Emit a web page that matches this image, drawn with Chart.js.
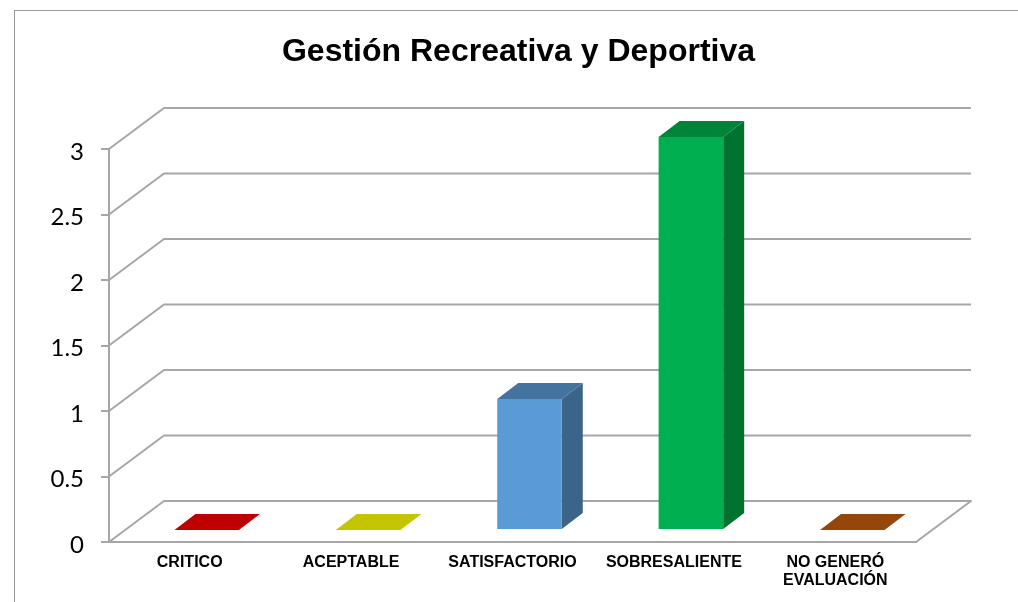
<!DOCTYPE html>
<html>
<head>
<meta charset="utf-8">
<script src="https://cdn.jsdelivr.net/npm/chart.js@4/dist/chart.umd.min.js"></script>
<style>
    html, body { margin: 0; padding: 0; background: #fff; overflow: hidden; }
    #frame { position: absolute; left: 14px; top: 10px; width: 1020px; height: 600px; border-left: 1px solid #999; border-top: 1px solid #999; overflow: hidden; }
    canvas { display: block; }
</style>
</head>
<body>
<div id="frame"><canvas id="chart" width="1007" height="591"></canvas></div>
<script>
const categories = ['CRITICO', 'ACEPTABLE', 'SATISFACTORIO', 'SOBRESALIENTE', ['NO GENERÓ', 'EVALUACIÓN']];
const values = [0, 0, 1, 3, 0];
const yMax = 3;
const yStep = 0.5;

const frontColors = ['#C00000', '#C4C400', '#5B9BD5', '#00B050', '#984807'];
const topColors = ['#C00000', '#C4C400', '#44739F', '#00843A', '#94460B'];
const sideColors = ['#900000', '#939300', '#3B6489', '#00722F', '#713605'];

const GRID = '#a6a6a6';
const WALL_DX = 55, WALL_DY = -41;   // depth of the floor
const BAR_DX = 21, BAR_DY = -16;     // depth of a bar
const SHIFT_X = 17, SHIFT_Y = -12;   // bars sit mid floor

function poly(ctx, color, pts) {
    ctx.fillStyle = color;
    ctx.beginPath();
    pts.forEach((p, i) => i ? ctx.lineTo(p[0], p[1]) : ctx.moveTo(p[0], p[1]));
    ctx.closePath();
    ctx.fill();
}

const walls3d = {
    id: 'walls3d',
    beforeDatasetsDraw(chart) {
        const ctx = chart.ctx, y = chart.scales.y, a = chart.chartArea;
        ctx.save();
        ctx.strokeStyle = GRID;
        ctx.lineWidth = 2;
        ctx.lineJoin = 'round';
        y.ticks.forEach(t => {
            const py = y.getPixelForValue(t.value);
            ctx.beginPath();
            ctx.moveTo(a.left, py);
            ctx.lineTo(a.left + WALL_DX, py + WALL_DY);
            ctx.lineTo(a.right + WALL_DX, py + WALL_DY);
            if (t.value === 0) ctx.lineTo(a.right, py);
            ctx.stroke();
        });
        ctx.restore();
    },
    beforeDatasetDraw(chart) {
        const ctx = chart.ctx;
        ctx.save();
        ctx.translate(SHIFT_X, SHIFT_Y);
        // side and top faces come from the bar elements
        chart.getDatasetMeta(0).data.forEach((bar, i) => {
            const l = bar.x - bar.width / 2, r = bar.x + bar.width / 2;
            if (bar.base > bar.y) {
                poly(ctx, sideColors[i], [[r, bar.y], [r + BAR_DX, bar.y + BAR_DY], [r + BAR_DX, bar.base + BAR_DY], [r, bar.base]]);
            }
            poly(ctx, topColors[i], [[l, bar.y], [l + BAR_DX, bar.y + BAR_DY], [r + BAR_DX, bar.y + BAR_DY], [r, bar.y]]);
        });
    },
    afterDatasetDraw(chart) {
        chart.ctx.restore();
    }
};

new Chart(document.getElementById('chart'), {
    type: 'bar',
    data: {
        labels: categories,
        datasets: [{
            data: values,
            backgroundColor: frontColors,
            borderWidth: 0,
            barPercentage: 0.4,
            categoryPercentage: 1
        }]
    },
    options: {
        responsive: false,
        animation: false,
        plugins: {
            legend: { display: false },
            tooltip: { enabled: false },
            title: {
                display: true,
                text: 'Gestión Recreativa y Deportiva',
                color: '#000',
                font: { family: '"Liberation Sans"', size: 32, weight: 'bold', lineHeight: 1.2 },
                padding: { top: 22, bottom: 77.6 }
            }
        },
        scales: {
            y: {
                min: 0,
                max: yMax,
                afterFit(axis) { axis.width = 94; },
                border: { color: GRID, width: 2 },
                grid: { drawOnChartArea: false, drawTicks: true, tickLength: 8, color: GRID, lineWidth: 2 },
                ticks: {
                    stepSize: yStep,
                    padding: 17,
                    labelOffset: 3,
                    color: '#000',
                    font: { family: 'Lato', size: 24 },
                    callback: v => String(v)
                }
            },
            // empty axis, only keeps room for the floor depth on the right
            spacer: {
                position: 'right',
                afterFit(axis) { axis.width = 106; },
                border: { display: false },
                grid: { display: false },
                ticks: { display: false }
            },
            x: {
                afterFit(axis) { axis.height = 60; },
                border: { color: GRID, width: 2 },
                grid: { display: false },
                ticks: {
                    padding: 3,
                    color: '#000',
                    maxRotation: 0,
                    autoSkip: false,
                    font: { family: '"Liberation Sans"', size: 16, weight: 'bold', lineHeight: 1.15 }
                }
            }
        }
    },
    plugins: [walls3d]
});
</script>
</body>
</html>
